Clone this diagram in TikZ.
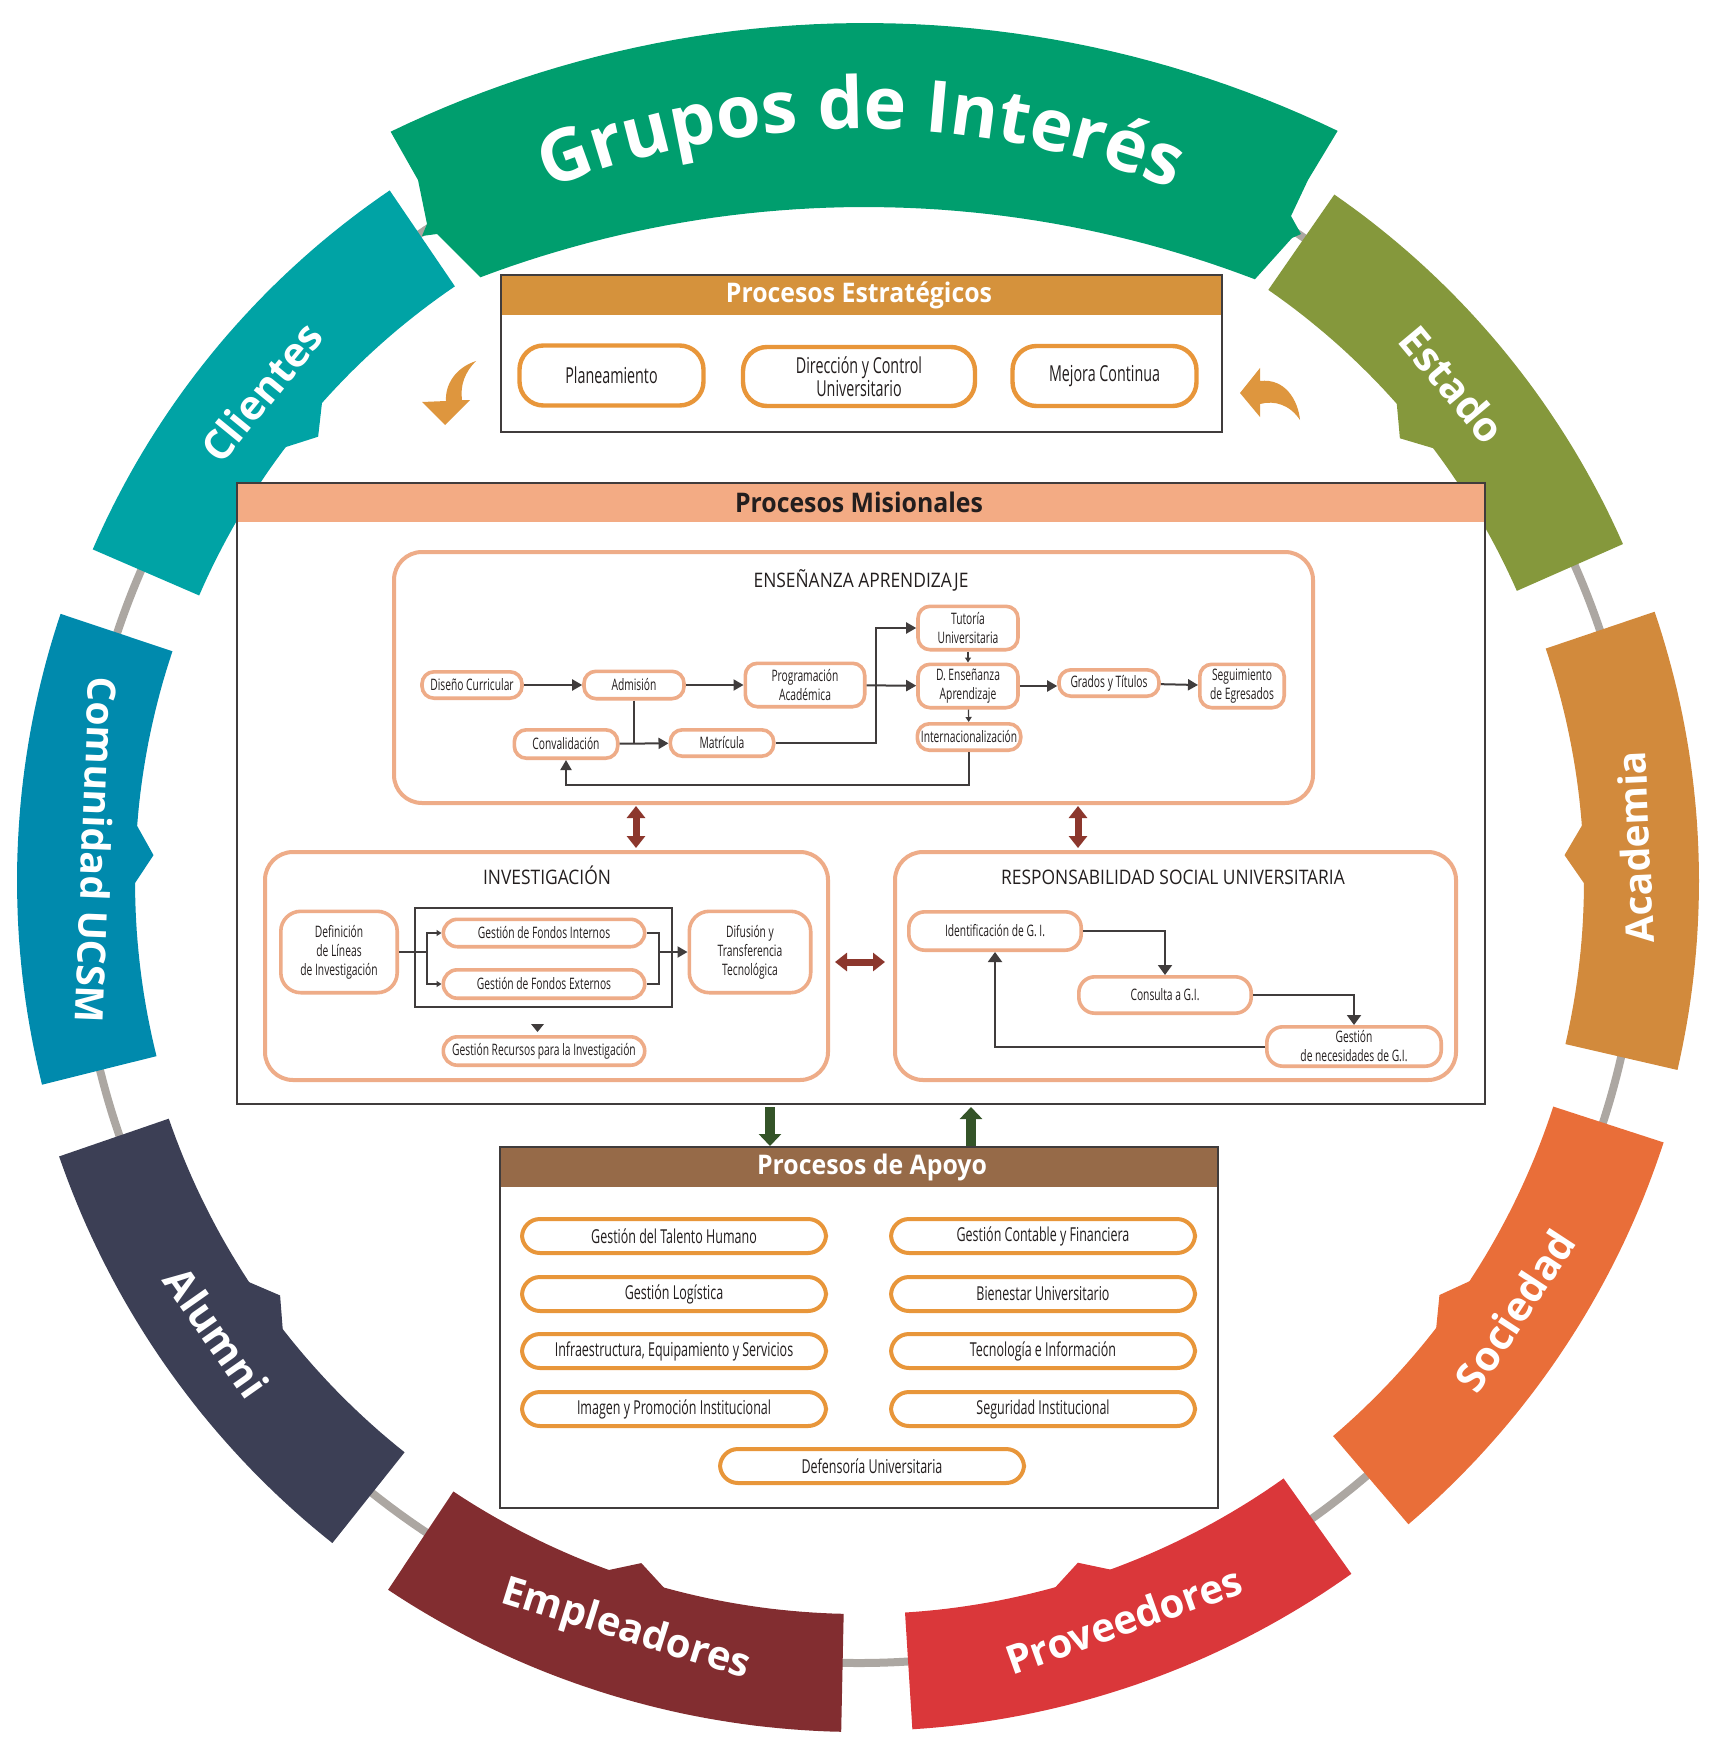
\documentclass[tikz,border=0pt]{standalone}
\usepackage{fontspec}
\setmainfont{Open Sans}
\newfontfamily\condfont{Open Sans}[FakeStretch=0.65]
\newfontfamily\midfont{Open Sans}[FakeStretch=0.87]
\newfontfamily\headfont{Open Sans}[FakeStretch=0.92]
\usetikzlibrary{arrows.meta,decorations.text}

\definecolor{grupgreen}{RGB}{0,158,110}
\definecolor{cliteal}{RGB}{0,163,165}
\definecolor{comblue}{RGB}{0,138,173}
\definecolor{alunavy}{RGB}{60,63,85}
\definecolor{empred}{RGB}{130,45,48}
\definecolor{provred}{RGB}{218,55,58}
\definecolor{socorange}{RGB}{233,110,57}
\definecolor{acaorange}{RGB}{210,138,60}
\definecolor{estolive}{RGB}{133,152,60}
\definecolor{ringgray}{RGB}{172,167,162}
\definecolor{hdrorange}{RGB}{213,146,60}
\definecolor{itemorange}{RGB}{232,150,58}
\definecolor{misalmon}{RGB}{243,171,132}
\definecolor{nodesalmon}{RGB}{238,172,136}
\definecolor{apobrown}{RGB}{150,106,72}
\definecolor{linegray}{RGB}{64,60,60}
\definecolor{titledark}{RGB}{35,30,30}
\definecolor{arrowred}{RGB}{140,55,45}
\definecolor{arrowgreen}{RGB}{52,84,40}
\definecolor{curvorange}{RGB}{222,150,62}

\tikzset{
  ringlabel/.style={text=white, font=\bfseries\fontsize{20.5}{22}\selectfont, inner sep=0pt},
  headtitle/.style={text=white, font=\headfont\bfseries\fontsize{13.5}{15}\selectfont, inner sep=0pt},
  subtitle/.style={text=titledark, font=\midfont\fontsize{10}{12}\selectfont, inner sep=0pt},
  estnode/.style={draw=itemorange, line width=2.2pt, rounded corners=12pt, fill=white, align=center,
    text=titledark, font=\condfont\fontsize{11}{11.5}\selectfont, inner sep=1pt},
  aponode/.style={draw=itemorange, line width=2pt, rounded corners=9pt, fill=white, align=center,
    text=titledark, font=\condfont\fontsize{9.6}{11}\selectfont, minimum width=152pt, minimum height=17pt, inner sep=1pt},
  misnode/.style={draw=nodesalmon, line width=1.8pt, rounded corners=6pt, fill=white, align=center,
    text=titledark, font=\condfont\fontsize{7.9}{9.5}\selectfont, inner sep=1pt},
  subbox/.style={draw=nodesalmon, line width=2pt, rounded corners=14pt},
  conn/.style={draw=linegray, line width=1pt, -{Triangle[length=5pt,width=5.5pt]}},
  tinyconn/.style={draw=linegray, line width=0.6pt, -{Triangle[length=2.5pt,width=3pt]}},
  plainline/.style={draw=linegray, line width=1pt},
  redarrow/.style={draw=arrowred, line width=3.5pt, {Triangle[length=6pt,width=9pt]}-{Triangle[length=6pt,width=9pt]}},
  greenarrow/.style={draw=arrowgreen, line width=5pt, -{Triangle[length=6pt,width=11pt]}},
}

\begin{document}
\begin{tikzpicture}[x=0.5pt, y=-0.5pt]
  \useasboundingbox (0,0) rectangle (1717,1749);

  % ring of interest groups
  \begin{scope}[shift={(859,881)}]
    \draw[ringgray, line width=4pt] (0,0) circle[radius=391pt];
    \foreach \col/\a/\b/\ri/\ro/\t/\tr in {
        cliteal/203.4/235.8/719/835/219.4/700,
        estolive/304.7/336.2/719/835/320.7/699,
        comblue/166/198.5/724/842/182.1/706,
        acaorange/-18.7/13/725/840/-2.1/706,
        alunavy/128.5/161/730/846/144.4/712,
        socorange/18/49.5/730/846/35.5/713,
        empred/91.2/123.6/733/851/107.7/716,
        provred/54.6/86.4/733/850/72.2/716}{
      \fill[\col] plot[domain=\a:\b, samples=40] (\x:\ro) -- plot[domain=\b:\a, samples=40] (\x:\ri) -- cycle;
      \fill[\col] ({\t-2.5}:{\ri+2}) -- (\t:\tr) -- ({\t+2.5}:{\ri+2}) -- cycle;
    }
    \node[ringlabel, rotate=50.7] (lcli) at (219.3:772) {Clientes};
    \node[ringlabel, rotate=-50.1] (lest) at (320.1:774) {Estado};
    \node[ringlabel, font=\bfseries\fontsize{19.5}{21}\selectfont, rotate=-92.3] (lcom) at (182.3:763) {Comunidad UCSM};
    \node[ringlabel, font=\bfseries\fontsize{19.5}{21}\selectfont, rotate=92.5] (laca) at (-2.5:777) {Academia};
    \node[ringlabel, rotate=-54.9] (lalu) at (144.9:785) {Alumni};
    \node[ringlabel, rotate=56.8] (lsoc) at (33.2:784) {Sociedad};
    \node[ringlabel, font=\bfseries\fontsize{20}{21}\selectfont, rotate=-17.3] (lemp) at (107.3:785) {Empleadores};
    \node[ringlabel, font=\bfseries\fontsize{20}{21}\selectfont, rotate=19.7] (lpro) at (70.3:785) {Proveedores};
  \end{scope}

  % top banner
  \fill[grupgreen] plot[domain=244.2:295.7, samples=50] ({865+1090*cos(\x)},{1113+1090*sin(\x)})
    -- (1308,180) -- (1291,216) -- (1301,234) -- (1292,238)
    -- plot[domain=291:249.3, samples=50] ({865+1088*cos(\x)},{1295+1088*sin(\x)})
    -- (437,234) -- (422,236) -- (427,224) -- (418,180) -- cycle;
  \path[decorate, decoration={text along path, text align=center, text color=white,
      text={|\bfseries\fontsize{36}{38}\selectfont|Grupos de Interés}}]
    (530.8,196.2) arc[start angle=113, end angle=67, radius=422.5pt];

  % curved arrows
  \fill[curvorange] (476,361) .. controls (455,368) and (445,385) .. (446,401) -- (422,402) -- (445,425)
    -- (470,400) -- (462,400) .. controls (460,385) and (465,372) .. (476,361) -- cycle;
  \fill[curvorange] (1240,393) -- (1260,368) -- (1260,381) .. controls (1285,378) and (1298,400) .. (1300,420)
    .. controls (1290,405) and (1275,400) .. (1260,404) -- (1260,417) -- cycle;

  % Procesos Estrategicos
  \fill[white] (501,275) rectangle (1222,432);
  \fill[hdrorange] (501,275) rectangle (1222,315);
  \draw[linegray, line width=1pt] (501,275) rectangle (1222,432);
  \node[headtitle] (test) at (859,295) {Procesos Estratégicos};
  \node[estnode, minimum width=92pt, minimum height=30pt] (pla) at (611.5,375.5) {Planeamiento};
  \node[estnode, minimum width=116pt, minimum height=29.5pt] (dir) at (859,376.5) {Dirección y Control\\Universitario};
  \node[estnode, minimum width=92pt, minimum height=30pt] (mej) at (1104.5,376) {Mejora Continua};

  % Procesos Misionales
  \fill[white] (237,483) rectangle (1485,1104);
  \fill[misalmon] (237,483) rectangle (1485,522);
  \draw[linegray, line width=0.8pt] (237,483) rectangle (1485,1104);
  \node[headtitle, text=titledark] (tmis) at (859,502) {Procesos Misionales};

  % Ensenanza aprendizaje
  \draw[subbox] (394,552) rectangle (1313,803);
  \node[subtitle] (ten) at (861,580) {ENSEÑANZA APRENDIZAJE};
  \node[misnode, minimum width=50pt, minimum height=13.2pt] (dis) at (472,685) {Diseño Curricular};
  \node[misnode, minimum width=50pt, minimum height=13.7pt] (adm) at (634,685) {Admisión};
  \node[misnode, minimum width=59.7pt, minimum height=21.7pt] (prg) at (805,685) {Programación\\Académica};
  \node[misnode, minimum width=50pt, minimum height=21.7pt] (tut) at (968,628) {Tutoría\\Universitaria};
  \node[misnode, minimum width=50pt, minimum height=21.7pt] (den) at (968,686) {D. Enseñanza\\Aprendizaje};
  \node[misnode, minimum width=51.7pt, minimum height=13.2pt] (int) at (969,737) {Internacionalización};
  \node[misnode, minimum width=50pt, minimum height=13.2pt] (gra) at (1109,683) {Grados y Títulos};
  \node[misnode, minimum width=42.2pt, minimum height=21.7pt] (seg) at (1242,686) {Seguimiento\\de Egresados};
  \node[misnode, minimum width=51.7pt, minimum height=14.2pt] (cnv) at (566,744) {Convalidación};
  \node[misnode, minimum width=51.7pt, minimum height=13.2pt] (mat) at (722,743) {Matrícula};
  \coordinate (ejoin) at (876,628);
  \draw[conn] (dis) -- (adm);
  \draw[conn] (adm) -- (prg);
  \draw[conn] (cnv) -- (mat);
  \draw[plainline] (adm.south) -- (adm.south |- mat.west);
  \draw[conn] (prg) -- (den);
  \draw[conn] (mat.east) -| (ejoin) -- (tut.west);
  \draw[tinyconn] (tut) -- (den);
  \draw[tinyconn] (den) -- (int);
  \draw[conn] (den.east) -- (gra.west |- den.east);
  \draw[conn] (gra) -- (seg);
  \draw[conn] (int.south) -- ++(0,33) -| (cnv.south);

  % Investigacion
  \draw[subbox] (265,852) rectangle (828,1080);
  \node[subtitle] (tin) at (547,875) {INVESTIGACIÓN};
  \draw[linegray, line width=0.8pt] (415,908) rectangle (672,1007);
  \node[misnode, rounded corners=10pt, minimum width=58.2pt, minimum height=40.7pt] (def) at (339,952) {Definición\\de Líneas\\de Investigación};
  \node[misnode, rounded corners=7pt, minimum width=100.7pt, minimum height=13.7pt] (gfi) at (544,933) {Gestión de Fondos Internos};
  \node[misnode, rounded corners=7pt, minimum width=100.7pt, minimum height=14.2pt] (gfe) at (544,984) {Gestión de Fondos Externos};
  \node[misnode, rounded corners=10pt, minimum width=60.7pt, minimum height=40.7pt] (dif) at (750,952) {Difusión y\\Transferencia\\Tecnológica};
  \node[misnode, rounded corners=7pt, minimum width=100.7pt, minimum height=14.2pt] (gri) at (544,1051) {Gestión Recursos para la Investigación};
  \coordinate (isplit) at (427,952);
  \coordinate (ijoin) at (659,952);
  \draw[plainline] (def.east) -- (isplit);
  \draw[tinyconn, line width=1pt] (isplit) |- (gfi.west);
  \draw[tinyconn, line width=1pt] (isplit) |- (gfe.west);
  \draw[plainline] (gfi.east) -| (ijoin);
  \draw[plainline] (gfe.east) -| (ijoin);
  \draw[conn] (ijoin) -- (dif.west);
  \fill[linegray] (531,1024) -- (544,1024) -- (537.5,1032) -- cycle;

  % Responsabilidad social universitaria
  \draw[subbox] (895,852) rectangle (1456,1080);
  \node[subtitle] (trs) at (1173,877) {RESPONSABILIDAD SOCIAL UNIVERSITARIA};
  \node[misnode, rounded corners=8pt, minimum width=86.2pt, minimum height=19.2pt] (idg) at (995,931) {Identificación de G. I.};
  \node[misnode, rounded corners=8pt, minimum width=86.2pt, minimum height=18.2pt] (cgi) at (1165,995) {Consulta a G.I.};
  \node[misnode, rounded corners=8pt, minimum width=87.2pt, minimum height=19.7pt] (ngi) at (1354,1046.5) {Gestión\\de necesidades de G.I.};
  \draw[conn, -{Triangle[length=5pt,width=7pt]}] (idg.east) -| (cgi.north);
  \draw[conn, -{Triangle[length=5pt,width=7pt]}] (cgi.east) -| (ngi.north);
  \draw[conn, -{Triangle[length=5pt,width=7pt]}] (ngi.west) -| (idg.south);

  % links between mission processes
  \coordinate (ra1) at (636,806);
  \coordinate (ra2) at (636,848);
  \coordinate (rb1) at (1078,806);
  \coordinate (rb2) at (1078,848);
  \coordinate (rc1) at (835,962);
  \coordinate (rc2) at (885,962);
  \draw[redarrow] (ra1) -- (ra2);
  \draw[redarrow] (rb1) -- (rb2);
  \draw[redarrow] (rc1) -- (rc2);

  % links to support processes
  \coordinate (ga1) at (770,1107);
  \coordinate (ga2) at (770,1146);
  \coordinate (gb1) at (971,1146);
  \coordinate (gb2) at (971,1107);
  \draw[greenarrow] (ga1) -- (ga2);
  \draw[greenarrow] (gb1) -- (gb2);

  % Procesos de Apoyo
  \fill[white] (500,1147) rectangle (1218,1508);
  \fill[apobrown] (500,1147) rectangle (1218,1187);
  \draw[linegray, line width=1pt] (500,1147) rectangle (1218,1508);
  \node[headtitle] (tapo) at (872,1167) {Procesos de Apoyo};
  \node[aponode] (tal) at (674,1236) {Gestión del Talento Humano};
  \node[aponode] (log) at (674,1294) {Gestión Logística};
  \node[aponode] (inf) at (674,1351) {Infraestructura, Equipamiento y Servicios};
  \node[aponode] (ima) at (674,1409) {Imagen y Promoción Institucional};
  \node[aponode] (con) at (1043,1236) {Gestión Contable y Financiera};
  \node[aponode] (bie) at (1043,1294) {Bienestar Universitario};
  \node[aponode] (tec) at (1043,1351) {Tecnología e Información};
  \node[aponode] (seu) at (1043,1409) {Seguridad Institucional};
  \node[aponode] (dfu) at (872,1466) {Defensoría Universitaria};
\end{tikzpicture}
\end{document}
